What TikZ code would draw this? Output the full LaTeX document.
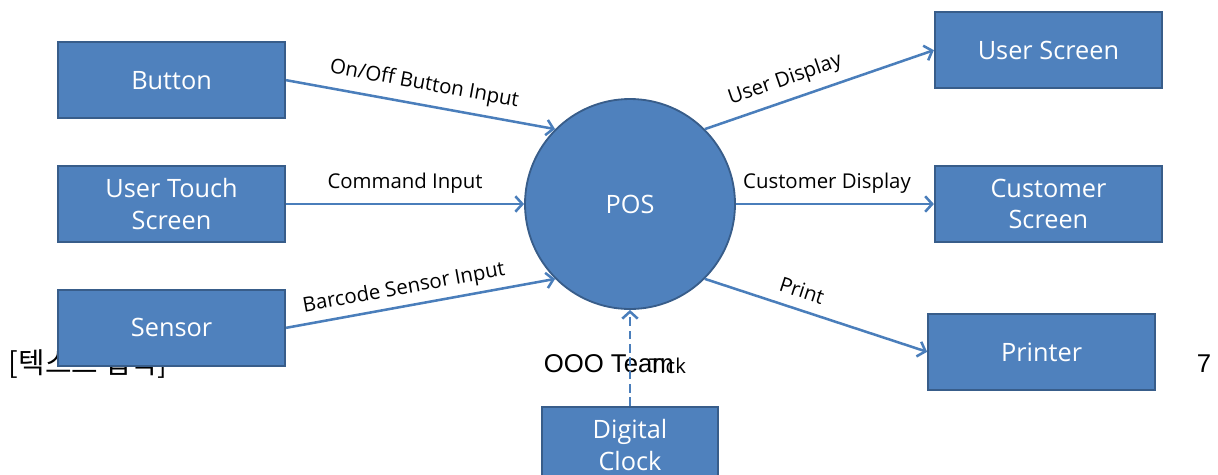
\documentclass[tikz,border=0pt]{standalone}
\usepackage{fontspec}
\setmainfont{Open Sans}
\newfontfamily\footfont{Liberation Sans}
\newfontfamily\krfont{Noto Sans CJK KR}
\usetikzlibrary{positioning,arrows.meta}
\definecolor{boxblue}{HTML}{4F81BD}
\definecolor{edgeblue}{HTML}{385D8A}
\definecolor{linkblue}{HTML}{4A7EBB}

\begin{document}
\begin{tikzpicture}[>={Straight Barb[length=5pt,width=11pt]},node distance=1.15cm and 5.95cm,
   every node/.style={font=\fontsize{14.5}{16}\selectfont},
   blk/.style={draw=edgeblue,fill=boxblue,line width=1.3pt,text=white,
     minimum width=5.68cm,minimum height=1.9cm,align=center,
     font=\fontsize{18}{22.5}\selectfont},
   flow/.style={draw=linkblue,line width=1.8pt,->}]
  \useasboundingbox (0,0) rectangle (30.45,-11.85);
  % footer texts lie under the boxes
  \node[font=\krfont\fontsize{20.5}{22}\selectfont] (memo) at (2.2,-9.1) {[텍스트 입력]};
  \node[font=\footfont\fontsize{18.3}{20}\selectfont] (team) at (15.22,-9.1) {OOO Team};
  \node[font=\footfont\fontsize{18.3}{20}\selectfont] (page) at (30.1,-9.1) {7};
  \node (pos) [circle,draw=edgeblue,fill=boxblue,line width=1.3pt,text=white,
     minimum size=5.25cm,font=\fontsize{18}{22}\selectfont] at (15.75,-5.1) {POS};
  \node (touch) [blk,left=of pos] {User Touch\\Screen};
  \node (button) [blk,above=of touch] {Button};
  \node (sensor) [blk,below=of touch] {Sensor};
  \node (cust) [blk,right=4.95cm of pos] {Customer\\Screen};
  \node (usrscr) [blk,above=1.9cm of cust] {User Screen};
  \node (printer) [blk,below=1.75cm of cust,xshift=-0.17cm] {Printer};
  \node (clock) [blk,below=2.4cm of pos,minimum width=4.4cm] {Digital\\Clock};
  \draw[flow] (button.east) -- node[above=3pt,sloped]{On/Off Button Input} (pos.135);
  \draw[flow] (touch) -- node[above=3pt]{Command Input} (pos);
  \draw[flow] (sensor.east) -- node[pos=.45,above=1pt,sloped]{Barcode Sensor Input} (pos.225);
  \draw[flow] (pos.45) -- node[pos=.38,above=3pt,sloped]{User Display} (usrscr.west);
  \draw[flow] (pos.east) -- node[pos=.46,above=3pt]{Customer Display} (cust.west);
  \draw[flow] (pos.315) -- node[pos=.41,above=4pt,sloped]{Print} (printer.west);
  \draw[flow,dash pattern=on 6pt off 3.5pt] (clock) -- node[pos=.42,right=0.33cm]{Tick} (pos);
\end{tikzpicture}
\end{document}
